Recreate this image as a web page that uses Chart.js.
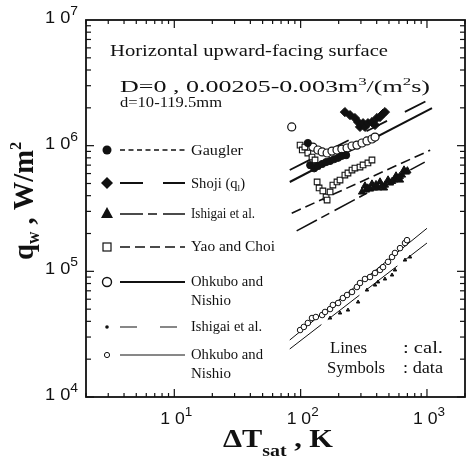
<!DOCTYPE html>
<html>
<head>
<meta charset="utf-8">
<script src="https://cdn.jsdelivr.net/npm/chart.js@4.4.1/dist/chart.umd.min.js"></script>
<style>
  html, body { margin: 0; padding: 0; background: #fff; }
  canvas { display: block; }
</style>
</head>
<body>
<canvas id="chart" width="472" height="458"></canvas>
<script>
// x = ΔTsat [K], y = qw [W/m2]
const xTickValues = [10, 100, 1000];
const yTickValues = [1e4, 1e5, 1e6, 1e7];

// calculated lines (cal.)
const ohkuboLine = [[82, 5.14e5], [1096, 1.99e6]];
const shojiLine = [[82, 6.4e5], [1096, 2.39e6]];
const yaoLine = [[85, 2.9e5], [1060, 9.2e5]];
const ishigaiLine = [[93, 2.1e5], [960, 7.4e5]];
const ohkuboSmallLine = [[82, 2.84e4], [1000, 2.2e5]];
const ishigaiSmallLine = [[82, 2.41e4], [1000, 1.68e5]];

// measured data (symbols)
const gauglerData = [[114, 1.05e6], [119, 7.0e5], [128, 6.6e5], [137, 6.9e5], [148, 7.15e5], [159, 7.4e5],
  [171, 7.55e5], [184, 7.8e5], [198, 8.0e5], [212, 8.3e5], [229, 8.4e5]];
const shojiData = [[224, 1.85e6], [246, 1.75e6], [269, 1.66e6], [285, 1.54e6], [295, 1.41e6], [312, 1.51e6],
  [323, 1.41e6], [341, 1.51e6], [367, 1.54e6], [388, 1.46e6], [402, 1.66e6], [425, 1.69e6], [449, 1.8e6], [465, 1.85e6]];
const ishigaiData = [[306, 4.28e5], [329, 4.44e5], [354, 4.52e5], [381, 4.61e5], [410, 4.61e5], [441, 4.78e5],
  [465, 4.86e5], [510, 5.05e5], [548, 5.33e5], [590, 5.53e5], [634, 5.84e5], [682, 6.17e5], [323, 4.78e5],
  [367, 4.95e5], [425, 5.14e5], [492, 5.33e5], [569, 5.74e5], [658, 6.4e5], [612, 5.33e5], [457, 4.61e5],
  [340, 4.6e5], [395, 4.9e5], [530, 5.2e5], [610, 5.7e5], [700, 6.3e5]];
const yaoData = [[99, 1.01e6], [103, 9.24e5], [108, 9.75e5], [114, 8.74e5], [123, 8.12e5], [130, 7.69e5], [135, 6.89e5],
  [135, 5.14e5], [140, 4.61e5], [150, 4.36e5], [159, 3.9e5], [162, 3.69e5], [171, 4.28e5], [180, 4.86e5], [194, 5.14e5],
  [205, 5.33e5], [224, 5.84e5], [237, 6.06e5], [255, 6.4e5], [269, 6.64e5], [295, 6.76e5], [312, 7.02e5], [341, 7.28e5], [367, 7.69e5]];
const ohkuboData = [[85, 1.41e6], [125, 9.75e5], [137, 9.24e5], [148, 8.91e5], [162, 8.74e5], [177, 9.06e5], [194, 9.24e5],
  [212, 9.4e5], [233, 9.58e5], [255, 9.94e5], [279, 1.01e6], [306, 1.05e6], [335, 1.09e6], [367, 1.13e6], [388, 1.17e6]];
const ishigaiSmallData = [[171, 4.25e4], [205, 4.66e4], [237, 4.92e4], [285, 5.7e4], [335, 7.1e4], [388, 7.78e4],
  [410, 8.23e4], [465, 8.69e4], [529, 9.35e4], [558, 1.025e5], [670, 1.23e5], [734, 1.3e5]];
const ohkuboSmallData = [[99, 3.41e4], [106, 3.61e4], [114, 3.88e4], [123, 4.25e4], [132, 4.33e4], [148, 4.49e4],
  [156, 4.75e4], [171, 5.01e4], [180, 5.4e4], [198, 5.6e4], [216, 6.13e4], [233, 6.48e4], [255, 6.85e4], [279, 7.5e4],
  [295, 8.07e4], [323, 8.69e4], [354, 9.01e4], [388, 9.7e4], [425, 1.025e5], [449, 1.08e5], [492, 1.19e5], [529, 1.3e5],
  [558, 1.4e5], [612, 1.53e5], [670, 1.68e5], [695, 1.77e5]];

const toXY = (arr) => arr.map(([x, y]) => ({ x, y }));

function pts(data, style, r, fill, bw) {
  return {
    data: toXY(data), showLine: false, pointStyle: style, pointRadius: r,
    backgroundColor: fill, borderColor: '#111', borderWidth: bw
  };
}
function cal(data, dash, w) {
  return {
    data: toXY(data), showLine: true, pointRadius: 0, borderDash: dash,
    borderColor: '#111', borderWidth: w, fill: false
  };
}

const SERIF = '"Liberation Serif", "Times New Roman", serif';
const SANS = '"Liberation Sans", Arial, sans-serif';

// rich text: segments [text, font, dy], fitted to width w
function rich(ctx, segs, x, y, w) {
  let total = 0;
  for (const s of segs) { ctx.font = s[1]; total += ctx.measureText(s[0]).width; }
  ctx.save();
  ctx.translate(x, y);
  ctx.scale(w ? w / total : 1, 1);
  let cx = 0;
  for (const s of segs) {
    ctx.font = s[1];
    ctx.fillText(s[0], cx, s[2] || 0);
    cx += ctx.measureText(s[0]).width;
  }
  ctx.restore();
}

function seg(ctx, x1, y1, x2, y2) {
  ctx.beginPath(); ctx.moveTo(x1, y1); ctx.lineTo(x2, y2); ctx.stroke();
}

const decor = {
  id: 'decor',
  afterDatasetsDraw(chart) {
    const { ctx, chartArea: a, scales: { x, y } } = chart;
    ctx.save();
    ctx.fillStyle = '#111';
    ctx.strokeStyle = '#111';
    ctx.textBaseline = 'alphabetic';

    // frame
    ctx.lineWidth = 1.8;
    ctx.strokeRect(a.left, a.top, a.right - a.left, a.bottom - a.top);

    // inward ticks
    ctx.lineWidth = 1.2;
    for (let e = 0; e <= 3; e++) {
      for (let m = 1; m <= 9; m++) {
        const v = m * Math.pow(10, e);
        if (v < 2 || v > 2000) continue;
        const px = x.getPixelForValue(v);
        const len = m === 1 ? 8 : 4;
        seg(ctx, px, a.bottom, px, a.bottom - len);
        seg(ctx, px, a.top, px, a.top + len);
      }
    }
    for (let e = 4; e <= 6; e++) {
      for (let m = 1; m <= 9; m++) {
        const py = y.getPixelForValue(m * Math.pow(10, e));
        const len = m === 1 ? 8 : 5;
        seg(ctx, a.left, py, a.left + len, py);
        seg(ctx, a.right, py, a.right - len, py);
      }
    }

    // tick labels
    for (const v of xTickValues) {
      const px = x.getPixelForValue(v);
      rich(ctx, [['1 0', '17px ' + SANS], [String(Math.round(Math.log10(v))), '13px ' + SANS, -8]], px - 14, 424, 32);
    }
    for (const v of yTickValues) {
      const py = y.getPixelForValue(v);
      rich(ctx, [['1 0', '17px ' + SANS], [String(Math.round(Math.log10(v))), '13px ' + SANS, -8]], 45, py + 3, 33);
    }

    // axis titles
    rich(ctx, [['ΔT', 'bold 26px ' + SERIF], ['sat', 'bold 17px ' + SERIF, 9], [' , K', 'bold 26px ' + SERIF]], 223, 447, 110);
    ctx.save();
    ctx.translate(33, 260);
    ctx.rotate(-Math.PI / 2);
    rich(ctx, [['q', 'bold 30px ' + SERIF], ['w', 'bold 18px ' + SERIF, 6], [' , W/m', 'bold 30px ' + SERIF], ['2', 'bold 17px ' + SERIF, -12]], 0, 0, 118);
    ctx.restore();

    // header text
    rich(ctx, [['Horizontal upward-facing surface', '16px ' + SERIF]], 110, 56, 278);
    rich(ctx, [['D=0 , 0.00205-0.003m', '17px ' + SERIF], ['3', '11px ' + SERIF, -7], ['/(m', '17px ' + SERIF], ['2', '11px ' + SERIF, -7], ['s)', '17px ' + SERIF]], 120, 92, 310);
    rich(ctx, [['d=10-119.5mm', '15px ' + SERIF]], 120, 107, 102);

    // legend
    const L1 = 120, L2 = 185, TX = 191;
    function legLine(yy, dash, w) {
      ctx.save(); ctx.lineWidth = w; ctx.setLineDash(dash); seg(ctx, L1, yy, L2, yy); ctx.restore();
    }
    function dot(cx, cy, r, filled, w) {
      ctx.beginPath(); ctx.arc(cx, cy, r, 0, Math.PI * 2);
      if (filled) ctx.fill(); else { ctx.save(); ctx.lineWidth = w; ctx.stroke(); ctx.restore(); }
    }
    // Gaugler
    dot(107, 150, 4.5, true);
    legLine(150, [5, 3.5], 1.3);
    rich(ctx, [['Gaugler', '14px ' + SERIF]], TX, 155, 52);
    // Shoji
    ctx.beginPath(); ctx.moveTo(107, 177); ctx.lineTo(113, 183); ctx.lineTo(107, 189); ctx.lineTo(101, 183); ctx.closePath(); ctx.fill();
    legLine(183, [23, 20], 1.8);
    rich(ctx, [['Shoji (q', '14px ' + SERIF], ['l', '9px ' + SERIF, 3], [')', '14px ' + SERIF]], TX, 188, 54);
    // Ishigai
    ctx.beginPath(); ctx.moveTo(107, 207); ctx.lineTo(113, 218); ctx.lineTo(101, 218); ctx.closePath(); ctx.fill();
    legLine(214, [23, 5, 9, 6], 1.6);
    rich(ctx, [['Ishigai et al.', '14px ' + SERIF]], TX, 218, 64);
    // Yao and Choi
    ctx.save(); ctx.lineWidth = 1.2; ctx.strokeRect(103, 243, 8, 8); ctx.restore();
    legLine(247, [10, 5], 1.6);
    rich(ctx, [['Yao and Choi', '14px ' + SERIF]], TX, 251, 84);
    // Ohkubo and Nishio
    dot(107, 282, 4.5, false, 1.4);
    legLine(282, [], 2);
    rich(ctx, [['Ohkubo and', '14px ' + SERIF]], TX, 286, 72);
    rich(ctx, [['Nishio', '14px ' + SERIF]], TX, 305, 40);
    // Ishigai small
    dot(107, 327, 1.8, true);
    legLine(327, [17, 23], 1.2);
    rich(ctx, [['Ishigai et al.', '14px ' + SERIF]], TX, 331, 71);
    // Ohkubo small
    dot(107, 355, 2.6, false, 1);
    legLine(355, [], 1);
    rich(ctx, [['Ohkubo and', '14px ' + SERIF]], TX, 359, 72);
    rich(ctx, [['Nishio', '14px ' + SERIF]], TX, 378, 40);

    // Lines / Symbols note
    rich(ctx, [['Lines', '16px ' + SERIF]], 330, 353, 37);
    rich(ctx, [[': cal.', '16px ' + SERIF]], 403, 353, 40);
    rich(ctx, [['Symbols', '16px ' + SERIF]], 327, 373, 58);
    rich(ctx, [[': data', '16px ' + SERIF]], 403, 373, 40);

    ctx.restore();
  }
};

new Chart(document.getElementById('chart'), {
  type: 'scatter',
  data: {
    datasets: [
      pts(gauglerData, 'circle', 3.6, '#111', 1),
      pts(shojiData, 'rectRot', 4.6, '#111', 1),
      pts(ishigaiData, 'triangle', 4.2, '#111', 1),
      pts(yaoData, 'rect', 4, '#fff', 1.1),
      pts(ohkuboData, 'circle', 4, '#fff', 1.2),
      pts(ishigaiSmallData, 'triangle', 2, '#111', 1),
      pts(ohkuboSmallData, 'circle', 2.8, '#fff', 1),
      cal(ohkuboLine, [], 2),
      cal(shojiLine, [23, 20], 1.8),
      cal(yaoLine, [10, 5], 1.6),
      cal(ishigaiLine, [23, 5, 9, 6], 1.6),
      cal(ohkuboSmallLine, [], 1),
      cal(ishigaiSmallLine, [40, 8], 1)
    ]
  },
  options: {
    responsive: false,
    animation: false,
    layout: { padding: { left: 86, right: 7, top: 20, bottom: 61 } },
    scales: {
      x: { type: 'logarithmic', min: 2, max: 2000, display: false },
      y: { type: 'logarithmic', min: 1e4, max: 1e7, display: false }
    },
    plugins: { legend: { display: false }, tooltip: { enabled: false } }
  },
  plugins: [decor]
});
</script>
</body>
</html>
